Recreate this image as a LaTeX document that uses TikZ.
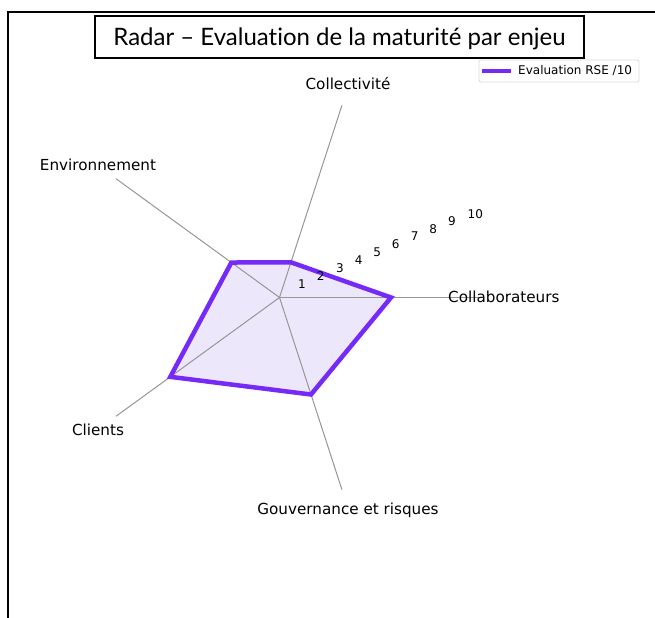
\documentclass[tikz,border=0pt]{standalone}
\usepackage{fontspec}
\usetikzlibrary{calc}
\setmainfont{DejaVu Sans}
\newfontfamily\titlefont[Ligatures=NoCommon]{Lato}
\definecolor{radarpurple}{RGB}{118,42,245}
\definecolor{radarfill}{RGB}{237,231,252}
\definecolor{axisgray}{RGB}{150,150,150}
\begin{document}
\begin{tikzpicture}[x=1bp,y=1bp,
  axisline/.style={draw=axisgray,line width=1bp},
  catlabel/.style={inner sep=0pt,font=\fontsize{15.2bp}{18bp}\selectfont},
  ticklabel/.style={inner sep=0pt,font=\fontsize{12bp}{14bp}\selectfont},
  seriesline/.style={draw=radarpurple,line width=4.5bp,line join=miter}]
\useasboundingbox (0,0) rectangle (655,618);
% frame
\draw[line width=2bp] (8,0) -- (8,606) -- (655,606);
% title
\node[draw,line width=1.2bp,minimum width=489bp,minimum height=42bp,inner sep=0pt] (title) at (339.5,581) {};
\node[inner sep=0pt] (titletext) at (339.5,579)
  {\titlefont\fontsize{24bp}{28bp}\selectfont Radar – Evaluation de la maturité par enjeu};
% radar
\coordinate (O) at (279.5,320.5);
\foreach \i/\a in {1/0,2/72,3/144,4/216,5/288}{
  \coordinate (A\i) at ($(O)+(\a:202)$);
}
\coordinate (P1) at ($(O)+(0:111.5)$);
\coordinate (P2) at ($(O)+(72:37)$);
\coordinate (P3) at ($(O)+(144:59.5)$);
\coordinate (P4) at ($(O)+(216:135)$);
\coordinate (P5) at ($(O)+(288:102)$);
\fill[radarfill] (P1) -- (P2) -- (P3) -- (P4) -- (P5) -- cycle;
\foreach \i in {1,...,5}{ \draw[axisline] (O) -- (A\i); }
\draw[seriesline] (P1) -- (P2) -- (P3) -- (P4) -- (P5) -- cycle;
% tick labels
\foreach \k/\x/\y in {1/302/284,2/320.7/276,3/340/267.7,4/358.7/260.3,5/377.3/252.7,6/395.7/244.3,7/414.7/236.3,8/433.3/228.7,9/452/221,10/475.3/214}{
  \node[ticklabel] (t\k) at (\x,618-\y) {\k};
}
% category labels
\node[catlabel] (lcol) at (348,534) {Collectivité};
\node[catlabel] (lenv) at (98,453) {Environnement};
\node[catlabel,anchor=west] (lcolab) at (448,321) {Collaborateurs};
\node[catlabel] (lcli) at (98,188) {Clients};
\node[catlabel] (lgov) at (348,108) {Gouvernance et risques};
% legend
\draw[draw=black!15,line width=0.8bp,rounded corners=2bp] (479,536) rectangle (639,558);
\coordinate (L1) at (482,547);
\coordinate (L2) at (511,547);
\draw[draw=radarpurple,line width=4bp] (L1) -- (L2);
\node[inner sep=0pt,anchor=west,font=\fontsize{12bp}{14bp}\selectfont] (leg) at (518,547) {Evaluation RSE /10};
\end{tikzpicture}
\end{document}
